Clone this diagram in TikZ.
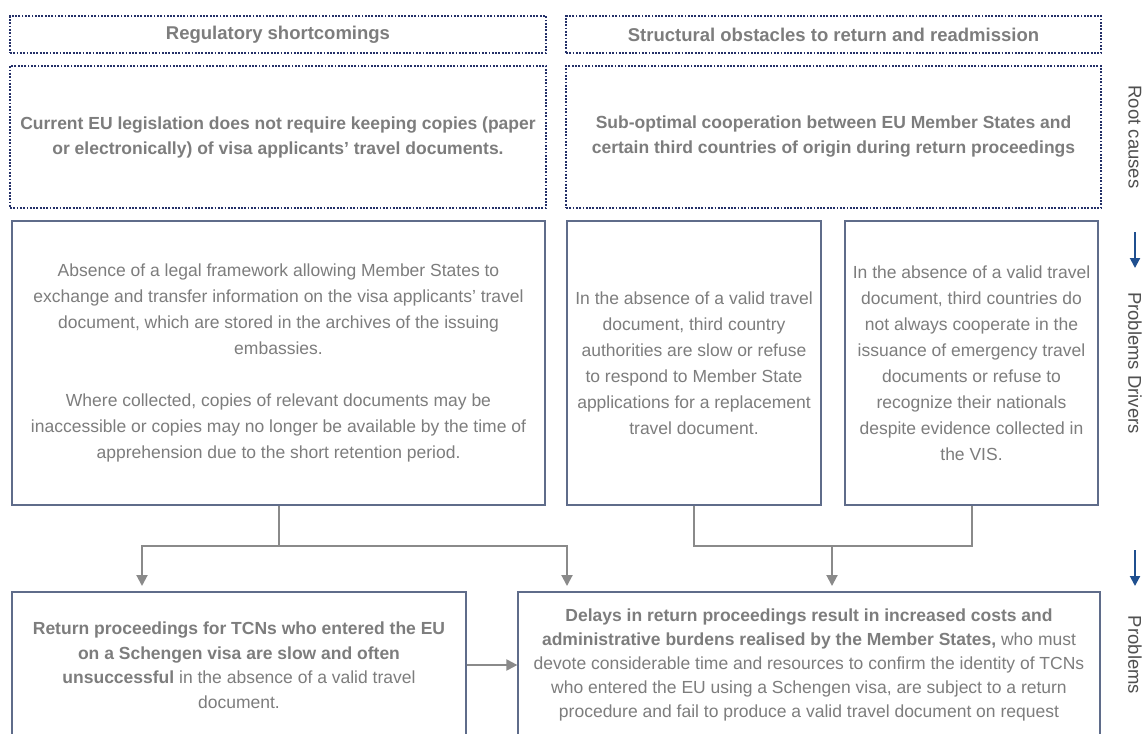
\documentclass[tikz,border=0pt]{standalone}
\usepackage{fontspec}
\setmainfont{Liberation Sans}
\usetikzlibrary{arrows.meta,calc}
\definecolor{txt}{RGB}{125,125,125}
\definecolor{dotc}{RGB}{36,48,104}
\definecolor{boxc}{RGB}{95,108,138}
\definecolor{conc}{RGB}{138,138,138}
\definecolor{blu}{RGB}{31,79,143}
\definecolor{lab}{RGB}{80,80,80}
\begin{document}
\begin{tikzpicture}[x=1pt,y=-1pt,
  dotbox/.style={draw=dotc, line width=2.2pt, dash pattern=on 1.8pt off 1.5pt,
    inner sep=0pt, align=center, text=txt, fill=white},
  hdrfont/.style={font=\bfseries\fontsize{18.5}{24}\selectfont},
  rootfont/.style={font=\bfseries\fontsize{17.5}{25}\selectfont},
  solidbox/.style={draw=boxc, line width=1.2pt, inner sep=0pt, align=center,
    text=txt, fill=white, font=\fontsize{17.5}{26}\selectfont},
  conn/.style={draw=conc, line width=2pt, line join=miter},
  arr/.style={-{Triangle[length=11pt,width=11pt]}},
  blarr/.style={draw=blu, line width=2pt, -{Triangle[length=10pt,width=10pt]}},
  sidelab/.style={rotate=-90, text=lab, font=\fontsize{18.5}{22}\selectfont, inner sep=0pt}
]
\useasboundingbox (0,0) rectangle (1147,733);
\clip (0,0) rectangle (1147,733);
\fill[white] (0,0) rectangle (1147,733);

% headers
\node[dotbox, hdrfont, minimum width=536pt, minimum height=37pt] (hL) at (278,34.5) {Regulatory shortcomings};
\node[dotbox, hdrfont, minimum width=535pt, minimum height=37pt] (hR) at (833.5,34.5) {Structural obstacles to return and readmission};

% root causes
\node[dotbox, rootfont, minimum width=536pt, minimum height=142pt] (rL) at (278,137)
  {Current EU legislation does not require keeping copies (paper\\or electronically) of visa applicants' travel documents.};
\node[dotbox, rootfont, minimum width=535pt, minimum height=142pt] (rR) at (833.5,137)
  {Sub-optimal cooperation between EU Member States and\\certain third countries of origin during return proceedings};

% problem drivers
\node[solidbox, minimum width=533pt, minimum height=284pt] (dL) at (278.5,363)
  {Absence of a legal framework allowing Member States to\\
   exchange and transfer information on the visa applicants' travel\\
   document, which are stored in the archives of the issuing\\
   embassies.\\[26pt]
   Where collected, copies of relevant documents may be\\
   inaccessible or copies may no longer be available by the time of\\
   apprehension due to the short retention period.};
\node[solidbox, minimum width=254pt, minimum height=284pt] (dM) at (694,363)
  {In the absence of a valid travel\\
   document, third country\\
   authorities are slow or refuse\\
   to respond to Member State\\
   applications for a replacement\\
   travel document.};
\node[solidbox, minimum width=253pt, minimum height=284pt] (dR) at (971.5,363)
  {In the absence of a valid travel\\
   document, third countries do\\
   not always cooperate in the\\
   issuance of emergency travel\\
   documents or refuse to\\
   recognize their nationals\\
   despite evidence collected in\\
   the VIS.};

% problems
\node[solidbox, font=\fontsize{17.5}{24.5}\selectfont, minimum width=454pt, minimum height=146pt] (pL) at (239,665)
  {\textbf{Return proceedings for TCNs who entered the EU}\\
   \textbf{on a Schengen visa are slow and often}\\
   \textbf{unsuccessful} in the absence of a valid travel\\
   document.};
\node[solidbox, font=\fontsize{17.5}{24}\selectfont, minimum width=582pt, minimum height=146pt] (pR) at (809,665)
  {\textbf{Delays in return proceedings result in increased costs and}\\
   \textbf{administrative burdens realised by the Member States,} who must\\
   devote considerable time and resources to confirm the identity of TCNs\\
   who entered the EU using a Schengen visa, are subject to a return\\
   procedure and fail to produce a valid travel document on request};

% connectors
\coordinate (aL) at (142,586);
\coordinate (aM) at (567,586);
\coordinate (aR) at (832,586);
\draw[conn] (dL.south) -- ++(0,40) coordinate (jL);
\draw[conn,arr] (jL) -| (aL);
\draw[conn,arr] (jL) -| (aM);
\draw[conn] (dM.south) |- (dR.south |- jL) -- (dR.south);
\draw[conn,arr] (aR |- jL) -- (aR);
\draw[conn,arr] (pL.east) -- (pR.west);

% side labels
\node[sidelab] (lRoot) at (1135,137) {Root causes};
\node[sidelab] (lDrv) at (1135,363) {Problems Drivers};
\node[sidelab] (lProb) at (1135,655) {Problems};
\coordinate (b1s) at (1135,232);
\coordinate (b1e) at (1135,268);
\coordinate (b2s) at (1135,550);
\coordinate (b2e) at (1135,586);
\draw[blarr] (b1s) -- (b1e);
\draw[blarr] (b2s) -- (b2e);
\end{tikzpicture}
\end{document}
